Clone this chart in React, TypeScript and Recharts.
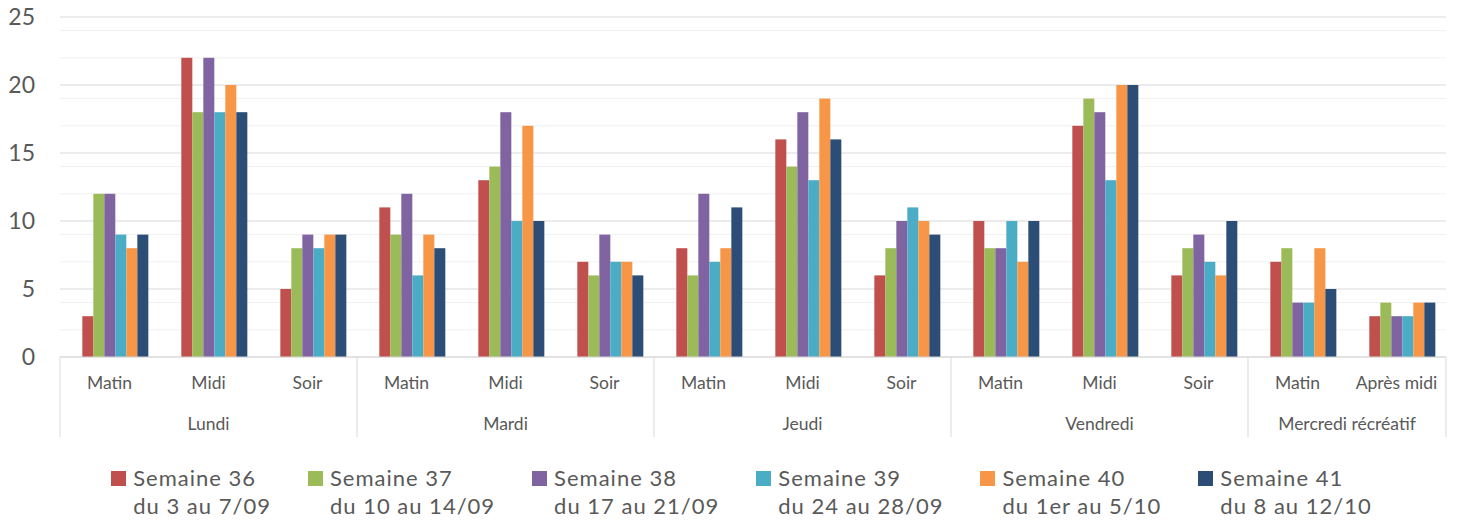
import { BarChart, Bar, XAxis, YAxis, CartesianGrid } from 'recharts';

const days = ['Lundi', 'Lundi', 'Lundi', 'Mardi', 'Mardi', 'Mardi', 'Jeudi', 'Jeudi', 'Jeudi', 'Vendredi', 'Vendredi', 'Vendredi', 'Mercredi récréatif', 'Mercredi récréatif'];
const moments = ['Matin', 'Midi', 'Soir', 'Matin', 'Midi', 'Soir', 'Matin', 'Midi', 'Soir', 'Matin', 'Midi', 'Soir', 'Matin', 'Après midi'];

const s36 = [3, 22, 5, 11, 13, 7, 8, 16, 6, 10, 17, 6, 7, 3];
const s37 = [12, 18, 8, 9, 14, 6, 6, 14, 8, 8, 19, 8, 8, 4];
const s38 = [12, 22, 9, 12, 18, 9, 12, 18, 10, 8, 18, 9, 4, 3];
const s39 = [9, 18, 8, 6, 10, 7, 7, 13, 11, 10, 13, 7, 4, 3];
const s40 = [8, 20, 9, 9, 17, 7, 8, 19, 10, 7, 20, 6, 8, 4];
const s41 = [9, 18, 9, 8, 10, 6, 11, 16, 9, 10, 20, 10, 5, 4];

const seriesNames = ['Semaine 36', 'Semaine 37', 'Semaine 38', 'Semaine 39', 'Semaine 40', 'Semaine 41'];
const seriesDates = ['du 3 au 7/09', 'du 10 au 14/09', 'du 17 au 21/09', 'du 24 au 28/09', 'du 1er au 5/10', 'du 8 au 12/10'];
const seriesValues = [s36, s37, s38, s39, s40, s41];
const colors = ['#C0504D', '#9BBB59', '#8064A2', '#4BACC6', '#F79646', '#2C4D75'];

const majorTicks = [0, 5, 10, 15, 20, 25];
const minorTicks = [1, 2, 3, 4, 6, 7, 8, 9, 11, 12, 13, 14, 16, 17, 18, 19, 21, 22, 23, 24];

const data = moments.map((m, i) => {
  const row: any = { key: `${days[i]}-${m}`, moment: m, day: days[i] };
  seriesValues.forEach((vals, s) => {
    row[`s${s}`] = vals[i];
  });
  return row;
});

const FONT = 'Lato, "Open Sans", sans-serif';
const GRAY = '#595959';
// bars sit slightly right of the category centre in the source chart
const BAR_SHIFT = 5.5;

const ShiftedBar = (props: any) => {
  const { x, y, width, height, fill } = props;
  if (!height || height <= 0) return null;
  return <rect x={x + BAR_SHIFT} y={y} width={width} height={height} fill={fill} />;
};

const TwoLevelTick = (props: any) => {
  const { x, y, width, index } = props;
  const bw = width / data.length;
  const row = data[index];
  const isFirst = index === 0 || data[index - 1].day !== row.day;
  const isLast = index === data.length - 1;
  let groupCount = 0;
  for (let j = index; j < data.length && data[j].day === row.day; j++) groupCount++;
  const left = x - bw / 2;
  return (
    <g>
      <text x={x} y={y + 25} textAnchor="middle" dominantBaseline="central" fill={GRAY} fontSize={17.5} fontFamily={FONT}>
        {row.moment}
      </text>
      {isFirst && (
        <>
          <line x1={left} x2={left} y1={y} y2={y + 80} stroke="#d9d9d9" strokeWidth={1} />
          <text x={left + (groupCount * bw) / 2} y={y + 66} textAnchor="middle" dominantBaseline="central" fill={GRAY} fontSize={17.5} fontFamily={FONT}>
            {row.day}
          </text>
        </>
      )}
      {isLast && <line x1={x + bw / 2} x2={x + bw / 2} y1={y} y2={y + 80} stroke="#d9d9d9" strokeWidth={1} />}
    </g>
  );
};

export default function App() {
  return (
    <div style={{ position: 'absolute', left: 0, top: 0, width: 1459, height: 524, background: '#fff', fontFamily: FONT }}>
      <BarChart
        width={1459}
        height={524}
        data={data}
        margin={{ top: 17, right: 13, bottom: 87, left: 0 }}
        barCategoryGap="17%"
        barGap={0}
      >
        <CartesianGrid vertical={false} horizontalValues={minorTicks} stroke="#f0f0f0" />
        <CartesianGrid vertical={false} horizontalValues={majorTicks} stroke="#d9d9d9" />
        <XAxis
          dataKey="key"
          interval={0}
          height={80}
          tickLine={false}
          tickSize={0}
          tickMargin={0}
          axisLine={{ stroke: '#d9d9d9' }}
          tick={<TwoLevelTick />}
        />
        <YAxis
          width={60}
          domain={[0, 25]}
          ticks={majorTicks}
          tickLine={false}
          tickSize={0}
          tickMargin={25}
          axisLine={false}
          tick={{ fill: GRAY, fontSize: 23, fontFamily: FONT }}
        />
        {seriesNames.map((name, s) => (
          <Bar key={name} dataKey={`s${s}`} name={name} fill={colors[s]} shape={<ShiftedBar />} isAnimationActive={false} />
        ))}
      </BarChart>
      <div
        style={{
          position: 'absolute',
          top: 464,
          left: 0,
          width: 1459,
          display: 'flex',
          justifyContent: 'center',
          gap: 37,
          paddingLeft: 24,
          boxSizing: 'border-box',
        }}
      >
        {seriesNames.map((name, s) => (
          <div key={name} style={{ display: 'flex', alignItems: 'flex-start' }}>
            <span style={{ width: 15, height: 15, background: colors[s], marginTop: 7, marginRight: 7, flexShrink: 0 }} />
            <div style={{ color: GRAY, fontSize: 22, letterSpacing: 1, lineHeight: '28px', whiteSpace: 'nowrap' }}>
              <div>{name}</div>
              <div>{seriesDates[s]}</div>
            </div>
          </div>
        ))}
      </div>
    </div>
  );
}
